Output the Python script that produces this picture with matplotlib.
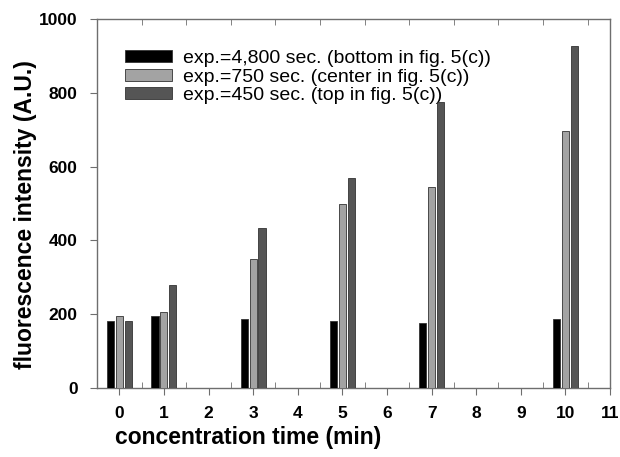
import matplotlib
matplotlib.use("Agg")
import matplotlib.pyplot as plt
import numpy as np

times = [0, 1, 3, 5, 7, 10]
exp_4800 = [182, 195, 186, 182, 175, 186]
exp_750 = [196, 205, 350, 498, 545, 696]
exp_450 = [182, 280, 434, 570, 776, 927]
labels = ["exp.=4,800 sec. (bottom in fig. 5(c))",
          "exp.=750 sec. (center in fig. 5(c))",
          "exp.=450 sec. (top in fig. 5(c))"]
colors = ["#000000", "#a3a3a3", "#555555"]

plt.rcParams['font.family'] = ['Liberation Sans', 'DejaVu Sans']

fig = plt.figure(figsize=(6.2, 4.57), dpi=100)
ax = fig.add_axes([97/620, 1-388/457, (610-97)/620, (388-19)/457])

x = np.array(times, dtype=float)
w = 0.16
off = 0.2
for i, (vals, c, lab) in enumerate(zip([exp_4800, exp_750, exp_450], colors, labels)):
    ax.bar(x + (i-1)*off, vals, width=w, color=c, edgecolor="#333333", linewidth=0.6, label=lab, zorder=3)

ax.set_xlim(-0.5, 11)
ax.set_ylim(0, 1000)
ax.set_xticks(range(0, 12))
ax.set_xticks(np.arange(0.5, 11, 1.0), minor=True)
ax.set_yticks(range(0, 1001, 200))

spine_c = "#6e6e6e"
for s in ax.spines.values():
    s.set_color(spine_c)
    s.set_linewidth(1.0)

ax.tick_params(axis='x', which='major', direction='out', length=5, color=spine_c, bottom=True, top=False, pad=8)
ax.tick_params(axis='x', which='minor', direction='in', length=4, color=spine_c, bottom=True, top=True)
ax.tick_params(axis='y', which='major', direction='out', length=5, color=spine_c, left=True, right=False, pad=9)

for lbl in ax.get_xticklabels() + ax.get_yticklabels():
    lbl.set_fontweight('bold')
    lbl.set_fontsize(12.5)

ax.set_xlabel("concentration time (min)", fontsize=16.5, fontweight='bold')
ax.xaxis.set_label_coords((248-97)/513, (388-438)/369)
ax.xaxis.label.set_verticalalignment('center')
ax.set_ylabel("fluorescence intensity (A.U.)", fontsize=16.5, fontweight='bold')
ax.yaxis.set_label_coords((26-97)/513, (388-215)/369)
ax.yaxis.label.set_verticalalignment('center')

leg = ax.legend(loc='upper left', bbox_to_anchor=((125-97)/513, (388-50)/369), frameon=False,
                fontsize=14, handlelength=2.4, handleheight=0.55, labelspacing=0.08,
                handletextpad=0.6, borderaxespad=0.0, borderpad=0.0)
leg.set_zorder(2)
for h in leg.legend_handles:
    h.set_edgecolor("#333333")

fig.savefig("out.png", dpi=100)
